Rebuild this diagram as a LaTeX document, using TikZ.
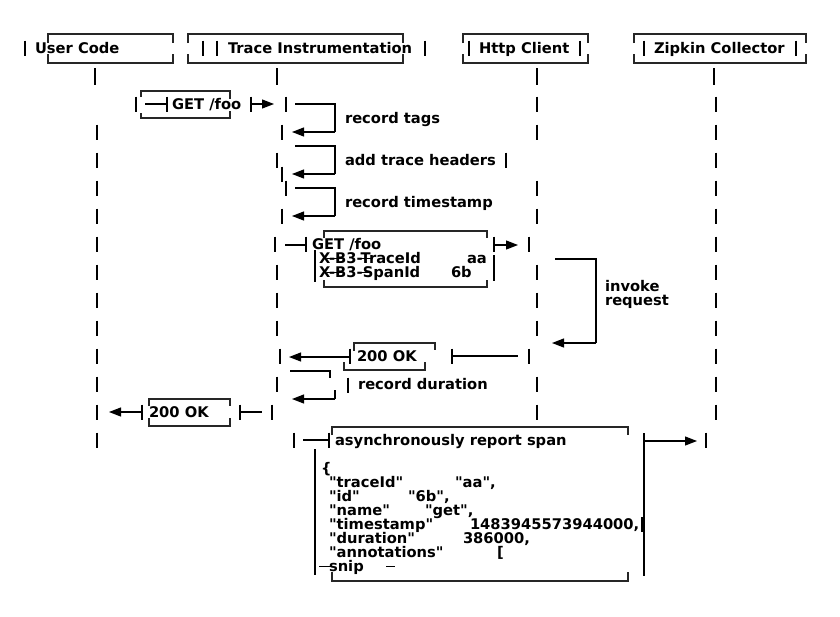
\documentclass[tikz,border=0pt]{standalone}
\usepackage{fontspec}
\setmainfont{DejaVu Sans}[Ligatures=TeXOff]
\usetikzlibrary{arrows.meta}
\tikzset{
  ln/.style={line width=1.2pt, black},
  bx/.style={line width=1.1pt, black!85},
  arr/.style={line width=1.2pt, black, -{Triangle[length=12pt,width=9pt]}},
  txt/.style={font=\fontsize{14.7}{14}\selectfont\bfseries, anchor=base west, inner sep=0pt, outer sep=0pt},
}
\newcommand\vb[2]{\draw[ln] (#1,#2-7.5) -- (#1,#2+7.5);}
\newcommand\tx[4]{\node[txt] (#1) at (#2,#3+5.5) {#4};}
\newcommand\dq{\char34\relax}
\begin{document}
\begin{tikzpicture}[x=1pt,y=-1pt]
\fill[white] (0,0) rectangle (840,616);
\useasboundingbox (0,0) rectangle (840,616);

% ---------- header row ----------
\draw[bx] (48,43) -- (48,34) -- (173,34) -- (173,43);
\draw[bx] (48,54) -- (48,63) -- (173,63) -- (173,54);
\draw[bx] (188,43) -- (188,34) -- (403,34) -- (403,43);
\draw[bx] (188,54) -- (188,63) -- (403,63) -- (403,54);
\draw[bx] (463,43) -- (463,34) -- (588,34) -- (588,43);
\draw[bx] (463,54) -- (463,63) -- (588,63) -- (588,54);
\draw[bx] (634,43) -- (634,34) -- (806,34) -- (806,43);
\draw[bx] (634,54) -- (634,63) -- (806,63) -- (806,54);
\foreach \x in {25,203,217,425,469,580,644,796}{\vb{\x}{48}}
\tx{userCode}{35}{48}{User Code}
\tx{traceInst}{228}{48}{Trace Instrumentation}
\tx{httpClient}{479}{48}{Http Client}
\tx{zipkin}{654}{48}{Zipkin Collector}

% ---------- lifelines ----------
\foreach \x in {95,277,537,714}{\draw[ln] (\x,68) -- (\x,85);}
% user
\foreach \r in {132,160,...,440}{\vb{97}{\r}}
% zipkin
\foreach \r in {104,132,...,412}{\vb{716}{\r}}
\vb{706}{440}
% http
\foreach \r in {104,132,188,216,272,300,328,384,412}{\vb{537}{\r}}
\vb{506}{160}
\vb{529}{244}
\vb{529}{356}
% trace
\vb{286}{104} \vb{282}{132} \vb{277}{160} \vb{282}{174} \vb{286}{188}
\vb{282}{216} \vb{275}{244} \vb{277}{272} \vb{277}{300} \vb{277}{328}
\vb{280}{356} \vb{277}{384} \vb{272}{412} \vb{294}{440}

% ---------- GET /foo (user -> trace) ----------
\vb{136}{104}
\draw[bx] (141,97) -- (141,91) -- (230,91) -- (230,99);
\draw[bx] (141,113) -- (141,118) -- (230,118) -- (230,111);
\draw[ln] (145,104) -- (167,104);
\vb{167}{104}
\tx{get1}{172}{104}{GET /foo}
\vb{251}{104}
\coordinate (g1s) at (251,104);
\coordinate (g1e) at (274,104);
\draw[arr] (g1s) -- (g1e);

% ---------- self loops ----------
\draw[ln] (295,104) -- (335,104) -- (335,132);
\draw[arr] (335,132) -- (292,132);
\tx{recTags}{345}{118}{record tags}
\draw[ln] (295,146) -- (335,146) -- (335,174);
\draw[arr] (335,174) -- (292,174);
\tx{addHdr}{345}{160}{add trace headers}
\draw[ln] (295,188) -- (335,188) -- (335,216);
\draw[arr] (335,216) -- (292,216);
\tx{recTs}{345}{202}{record timestamp}

% ---------- GET /foo (trace -> http) ----------
\draw[ln] (285,245) -- (306,245);
\vb{306}{244}
\draw[bx] (324,238) -- (324,231) -- (487,231) -- (487,238);
\draw[bx] (324,280) -- (324,287) -- (487,287) -- (487,280);
\draw[ln] (315,250) -- (315,282);
\tx{get2}{312}{244}{GET /foo}
\tx{hTrace}{319}{258}{X-B3-TraceId}
\tx{hTraceV}{467}{258}{aa}
\tx{hSpan}{319}{272}{X-B3-SpanId}
\tx{hSpanV}{451}{272}{6b}
\draw[line width=1.1pt] (327,258.5) -- (342,258.5);
\draw[line width=1.1pt] (360,258.5) -- (373,258.5);
\draw[line width=1.1pt] (327,272.5) -- (342,272.5);
\draw[line width=1.1pt] (358,272.5) -- (372,272.5);
\vb{494}{244}
\draw[ln] (494,255) -- (494,281);
\draw[arr] (494,245) -- (518,245);

% ---------- invoke request ----------
\draw[ln] (555,259) -- (596,259) -- (596,343);
\draw[arr] (596,343) -- (552,343);
\tx{invoke}{605}{286}{invoke}
\tx{request}{605}{300}{request}

% ---------- 200 OK (http -> trace) ----------
\vb{452}{356}
\draw[ln] (452,356) -- (518,356);
\draw[bx] (354,351) -- (354,343) -- (435,343) -- (435,350);
\draw[bx] (344,362) -- (344,370) -- (425,370) -- (425,362);
\tx{ok1}{357}{356}{200 OK}
\vb{350}{356}
\draw[arr] (350,357) -- (289,357);

% ---------- record duration ----------
\draw[ln] (290,371) -- (330,371) -- (330,378);
\draw[ln] (335,390) -- (335,399);
\draw[arr] (335,399) -- (292,399);
\vb{348}{385}
\tx{recDur}{358}{384}{record duration}

% ---------- 200 OK (trace -> user) ----------
\vb{240}{412}
\draw[ln] (240,412) -- (262,412);
\draw[bx] (149,406) -- (149,399) -- (230,399) -- (230,406);
\draw[bx] (149,418) -- (149,426) -- (230,426) -- (230,418);
\tx{ok2}{149}{412}{200 OK}
\vb{142}{412}
\draw[arr] (142,412) -- (109,412);

% ---------- asynchronously report span ----------
\draw[ln] (303,440) -- (329,440);
\vb{329}{440}
\draw[bx] (332,435) -- (332,427) -- (628,427) -- (628,435);
\draw[bx] (332,572) -- (332,581) -- (628,581) -- (628,572);
\tx{async}{335}{440}{asynchronously report span}
\draw[ln] (315,449) -- (315,575);
\draw[ln] (644,433) -- (644,576);
\draw[arr] (644,441) -- (697,441);
\tx{jOpen}{321}{468}{\{}
\tx{jK1}{329}{482}{\dq traceId\dq}
\tx{jV1}{455}{482}{\dq aa\dq,}
\tx{jK2}{329}{496}{\dq id\dq}
\tx{jV2}{408}{496}{\dq 6b\dq,}
\tx{jK3}{329}{510}{\dq name\dq}
\tx{jV3}{425}{510}{\dq get\dq,}
\tx{jK4}{329}{524}{\dq timestamp\dq}
\tx{jV4}{470}{524}{1483945573944000,}
\draw[ln] (642,517) -- (642,532);
\tx{jK5}{329}{538}{\dq duration\dq}
\tx{jV5}{463}{538}{386000,}
\tx{jK6}{329}{552}{\dq annotations\dq}
\tx{jV6}{497}{552}{[}
\tx{jSnip}{329}{566}{snip}
\draw[line width=1.1pt] (319,566.5) -- (333,566.5);
\draw[line width=1.1pt] (386,566.5) -- (395,566.5);
\end{tikzpicture}
\end{document}
